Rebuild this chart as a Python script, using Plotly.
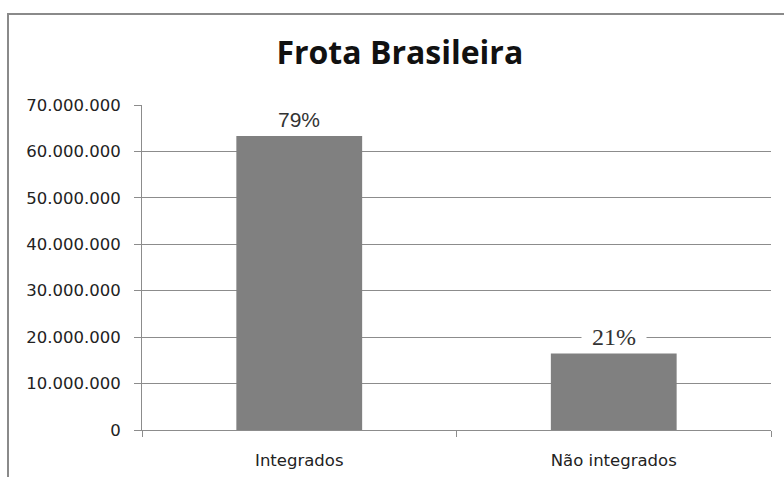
import plotly.graph_objects as go

categories = ["Integrados", "Não integrados"]
values = [63300000, 16500000]
pct_labels = ["79%", "21%"]
y_ticks = [0, 10000000, 20000000, 30000000, 40000000, 50000000, 60000000, 70000000]

W, H = 784, 477
L, R, T, B = 142, 13, 105, 47
pw, ph = W - L - R, H - T - B

fig = go.Figure()
fig.add_trace(go.Bar(
    x=categories, y=values,
    marker=dict(color="#808080", line=dict(width=0)),
    hoverinfo="skip",
))

label_fonts = [
    dict(family="Liberation Sans", size=21, color="#333333"),
    dict(family="Liberation Serif", size=24, color="#333333"),
]
label_widths = [60, 64]
label_shift = [4, 2]
for c, v, t, f, w, s in zip(categories, values, pct_labels, label_fonts, label_widths, label_shift):
    fig.add_annotation(
        x=c, y=v, text=t, showarrow=False, yanchor="bottom", yshift=s,
        font=f, bgcolor="white", width=w, borderpad=0,
    )

# outer chart border (cut off at the right and bottom)
fig.add_shape(
    type="rect", xref="paper", yref="paper",
    x0=(8 - L) / pw, x1=(W + 20 - L) / pw,
    y0=-(H + 20 - (T + ph)) / ph, y1=(T + ph - 14) / ph,
    line=dict(color="#8a8a8a", width=2), layer="below",
)

fig.update_layout(
    width=W, height=H,
    margin=dict(l=L, r=R, t=T, b=B, pad=0),
    paper_bgcolor="white", plot_bgcolor="white",
    separators=",.",
    bargap=0.6,
    showlegend=False,
    title=dict(
        text="<b>Frota Brasileira</b>",
        x=0.51, xanchor="center", y=1 - 53 / H, yanchor="middle",
        font=dict(family="Open Sans", size=32, color="#111111"),
    ),
    xaxis=dict(
        type="category",
        automargin=False,
        showgrid=False,
        showline=True, linecolor="#8c8c8c", linewidth=1,
        ticks="outside", tickson="boundaries", ticklen=6, tickcolor="#8c8c8c",
        tickfont=dict(family="DejaVu Sans", size=16.5, color="#222222"),
        ticklabelstandoff=15,
    ),
    yaxis=dict(
        range=[0, 70000000],
        automargin=False,
        tickvals=y_ticks, tickformat=",d",
        showgrid=True, gridcolor="#8c8c8c", gridwidth=1,
        showline=True, linecolor="#8c8c8c", linewidth=1,
        ticks="outside", ticklen=7, tickcolor="#8c8c8c",
        tickfont=dict(family="DejaVu Sans", size=16.5, color="#222222"),
        ticklabelstandoff=10,
        zeroline=False,
    ),
)

fig.write_html(
    "out.html",
    config={"displayModeBar": False},
    post_script="document.body.style.margin='0px';document.body.style.overflow='hidden';",
)
